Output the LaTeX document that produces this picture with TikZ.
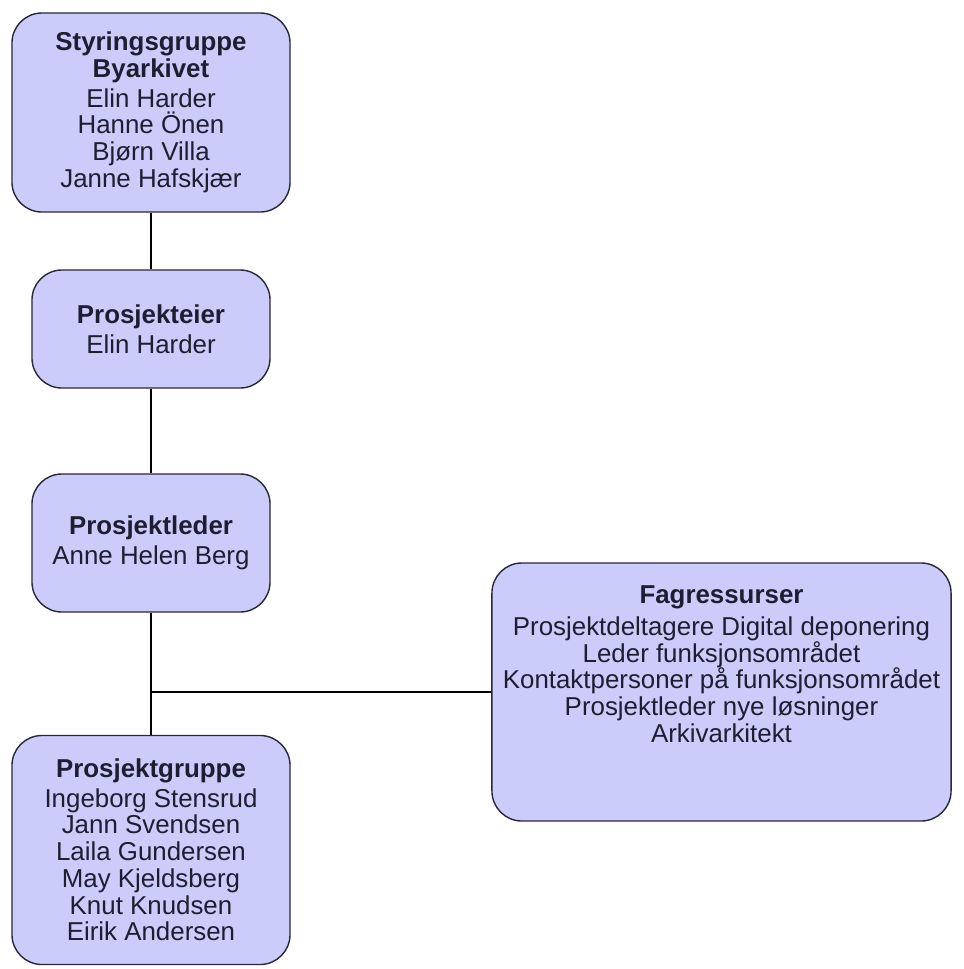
\documentclass[tikz,border=0pt]{standalone}
\usepackage{fontspec}
\setmainfont{Liberation Sans}
\usepackage{xcolor}
\usepackage{tikz}
\usetikzlibrary{positioning}
\definecolor{BoxFill}{RGB}{204, 204, 250}
\definecolor{BoxLine}{RGB}{40, 40, 60}
\definecolor{DarkText}{RGB}{30, 30, 50}
\tikzset{
  orgbox/.style={draw=BoxLine, fill=BoxFill, rounded corners=0.75cm, line width=1pt,
                 align=center, text=DarkText, font=\fontsize{18.4}{19}\selectfont},
  orgtext/.style={align=center, text=DarkText, font=\fontsize{18.4}{19}\selectfont},
  link/.style={draw=black, line width=1pt}
}

\begin{document}
\begin{tikzpicture}[x=0.025cm, y=-0.025cm]
      \useasboundingbox (0,0) rectangle (963,969);
      % left column
      \node[orgbox, minimum width=6.95cm, minimum height=4.975cm] (styr) at (151,112.5) {
        \textbf{Styringsgruppe}\\\textbf{Byarkivet}\\[2pt]
        Elin Harder\\Hanne Önen\\Bjørn Villa\\Janne Hafskjær};
      \node[orgbox, minimum width=5.95cm, minimum height=2.95cm] (eier) at (151,329) {
        \textbf{Prosjekteier}\\[2pt] Elin Harder};
      \node[orgbox, minimum width=5.95cm, minimum height=3.45cm] (leder) at (151,543) {
        \textbf{Prosjektleder}\\[2pt] Anne Helen Berg};
      \node[orgbox, minimum width=6.95cm, minimum height=5.725cm] (gruppe) at (151,850) {
        \textbf{Prosjektgruppe}\\[2pt]
        Ingeborg Stensrud\\Jann Svendsen\\Laila Gundersen\\May Kjeldsberg\\Knut Knudsen\\Eirik Andersen};
      % right box, text sits at the top
      \node[orgbox, minimum width=11.475cm, minimum height=6.45cm] (fag) at (721.5,692) {};
      \node[orgtext, anchor=north] (fagtxt) at ([yshift=-0.45cm]fag.north) {
        \textbf{Fagressurser}\\[4pt]
        Prosjektdeltagere Digital deponering\\Leder funksjonsområdet\\
        Kontaktpersoner på funksjonsområdet\\Prosjektleder nye løsninger\\Arkivarkitekt};
      % connectors
      \coordinate (jn) at (151,692);
      \draw[link] (styr) -- (eier);
      \draw[link] (eier) -- (leder);
      \draw[link] (leder) -- (gruppe);
      \draw[link] (jn) -- (fag);
\end{tikzpicture}
\end{document}
